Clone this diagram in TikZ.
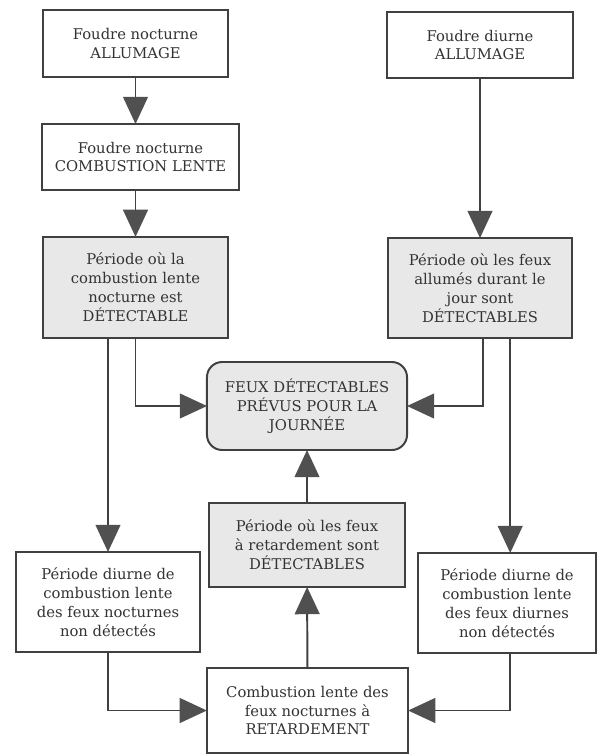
\documentclass[tikz,border=0pt]{standalone}
\usepackage{fontspec}
\setmainfont{DejaVu Serif}
\usetikzlibrary{arrows.meta,positioning}
\definecolor{inkgray}{RGB}{64,64,64}
\definecolor{headgray}{RGB}{80,80,80}
\definecolor{softgray}{RGB}{232,232,232}

\begin{document}
\begin{tikzpicture}[x=0.025cm, y=-0.025cm,
    every node/.style={font=\fontsize{10.5}{13.5}\selectfont, text=black!80},
    box/.style={draw=inkgray, line width=1.4pt, align=center, inner sep=0pt, outer sep=0pt},
    greybox/.style={box, fill=softgray},
    arr/.style={draw=inkgray, line width=1.4pt, -{Triangle[length=0.68cm, width=0.62cm, color=headgray]}}]
    \useasboundingbox (0,0) rectangle (597,754);
    % nuit
    \node[box, minimum width=4.63cm, minimum height=1.68cm] (nightign) at (135.5,43.5) {Foudre nocturne\\ALLUMAGE};
    \node[box, minimum width=4.93cm, minimum height=1.65cm] (nightsmold) at (140.5,157) {Foudre nocturne\\COMBUSTION LENTE};
    \node[greybox, minimum width=4.63cm, minimum height=2.53cm] (nightdet) at (135.5,287.5) {Période où la\\combustion lente\\nocturne est\\DÉTECTABLE};
    % jour
    \node[box, minimum width=4.65cm, minimum height=1.65cm] (dayign) at (480,45) {Foudre diurne\\ALLUMAGE};
    \node[greybox, minimum width=4.6cm, minimum height=2.5cm] (daydet) at (480,288) {Période où les feux\\allumés durant le\\jour sont\\DÉTECTABLES};
    % centre
    \node[greybox, rounded corners=0.38cm, minimum width=5.0cm, minimum height=2.2cm] (forecast) at (307,406) {FEUX DÉTECTABLES\\PRÉVUS POUR LA\\JOURNÉE};
    \node[greybox, minimum width=4.9cm, minimum height=2.1cm] (delaydet) at (307,545) {Période où les feux\\à retardement sont\\DÉTECTABLES};
    \node[box, minimum width=4.6cm, minimum height=2.5cm] (nightundet) at (108,602) {Période diurne de\\combustion lente\\des feux nocturnes\\non détectés};
    \node[box, minimum width=4.45cm, minimum height=2.5cm] (dayundet) at (507,603) {Période diurne de\\combustion lente\\des feux diurnes\\non détectés};
    \node[box, minimum width=5.03cm, minimum height=2.13cm] (delayed) at (307.5,710.5) {Combustion lente des\\feux nocturnes à\\RETARDEMENT};
    % fleches
    \draw[arr] (nightign) -- (nightign |- nightsmold.north);
    \draw[arr] (nightdet.north |- nightsmold.south) -- (nightdet);
    \draw[arr] (dayign) -- (daydet);
    \draw[arr] (nightdet.south) |- (forecast.west);
    \draw[arr] ([xshift=0.08cm]daydet.south) |- (forecast.east);
    \draw[arr] (nightundet.north |- nightdet.south) -- (nightundet);
    \draw[arr] ([xshift=0.08cm]dayundet.north |- daydet.south) -- ([xshift=0.08cm]dayundet.north);
    \draw[arr] (nightundet.south) |- (delayed.west);
    \draw[arr] ([xshift=0.08cm]dayundet.south) |- (delayed.east);
    \draw[arr] (delayed) -- (delaydet);
    \draw[arr] (delaydet) -- (forecast);
\end{tikzpicture}
\end{document}
